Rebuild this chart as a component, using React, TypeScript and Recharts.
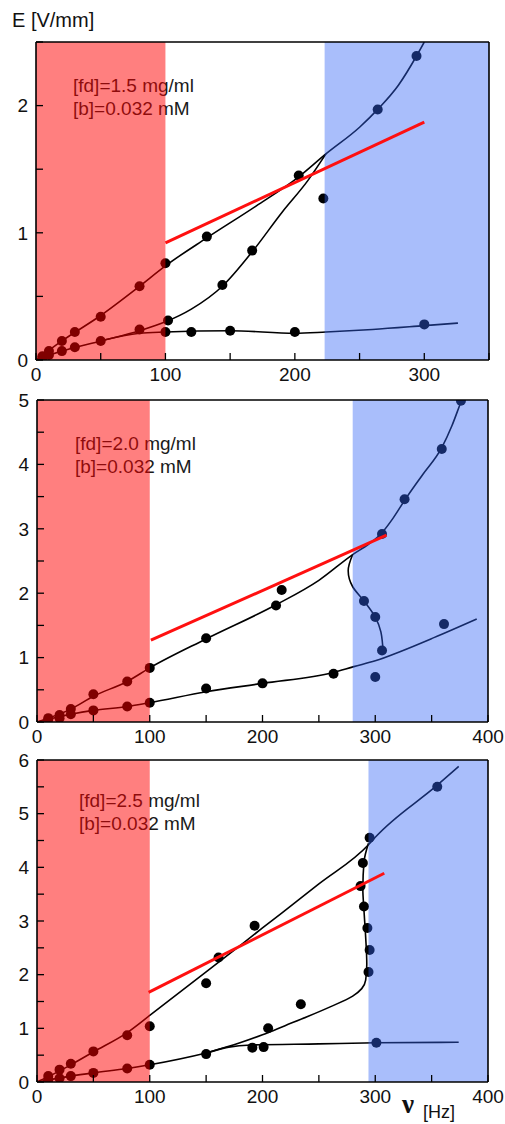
import React from 'react';
import {
  ComposedChart,
  Line,
  Scatter,
  XAxis,
  YAxis,
  ReferenceArea,
} from 'recharts';

type Pt = { x: number; y: number };

// ---- panel 1: [fd]=1.5 mg/ml ----
const p1XTicks = [0, 50, 100, 150, 200, 250, 300, 350];
const p1YTicks = [0, 0.5, 1, 1.5, 2, 2.5];
const p1RedBand = [0, 100];
const p1BlueBand = [223, 350];
const p1UpperPts: Pt[] = [
  { x: 5, y: 0.03 }, { x: 10, y: 0.07 }, { x: 20, y: 0.15 }, { x: 30, y: 0.22 },
  { x: 50, y: 0.34 }, { x: 80, y: 0.58 }, { x: 100, y: 0.76 }, { x: 132, y: 0.97 },
  { x: 203, y: 1.45 }, { x: 264, y: 1.97 }, { x: 294, y: 2.39 },
];
const p1MiddlePts: Pt[] = [
  { x: 5, y: 0.02 }, { x: 10, y: 0.04 }, { x: 20, y: 0.07 }, { x: 30, y: 0.1 },
  { x: 50, y: 0.15 }, { x: 80, y: 0.24 }, { x: 102, y: 0.31 }, { x: 144, y: 0.59 },
  { x: 167, y: 0.86 }, { x: 222, y: 1.27 },
];
const p1LowerPts: Pt[] = [
  { x: 100, y: 0.22 }, { x: 120, y: 0.22 }, { x: 150, y: 0.23 }, { x: 200, y: 0.22 },
  { x: 300, y: 0.28 },
];
const p1UpperCurve: Pt[] = [
  { x: 0, y: 0 }, { x: 20, y: 0.15 }, { x: 50, y: 0.35 }, { x: 80, y: 0.58 },
  { x: 100, y: 0.74 }, { x: 132, y: 0.96 }, { x: 170, y: 1.21 }, { x: 203, y: 1.44 },
  { x: 224, y: 1.62 }, { x: 250, y: 1.83 }, { x: 264, y: 1.97 }, { x: 280, y: 2.16 },
  { x: 294, y: 2.39 }, { x: 300, y: 2.5 },
];
const p1MiddleCurve: Pt[] = [
  { x: 0, y: 0 }, { x: 20, y: 0.07 }, { x: 50, y: 0.15 }, { x: 80, y: 0.23 },
  { x: 100, y: 0.3 }, { x: 120, y: 0.4 }, { x: 144, y: 0.58 }, { x: 167, y: 0.85 },
  { x: 190, y: 1.16 }, { x: 210, y: 1.41 }, { x: 224, y: 1.62 },
];
const p1LowerCurve: Pt[] = [
  { x: 50, y: 0.15 }, { x: 80, y: 0.21 }, { x: 100, y: 0.22 }, { x: 150, y: 0.23 },
  { x: 200, y: 0.21 }, { x: 224, y: 0.22 }, { x: 260, y: 0.24 }, { x: 300, y: 0.27 },
  { x: 326, y: 0.29 },
];
const p1Fit: Pt[] = [{ x: 100, y: 0.92 }, { x: 300, y: 1.87 }];

// ---- panel 2: [fd]=2.0 mg/ml ----
const p2XTicks = [0, 50, 100, 150, 200, 250, 300, 350, 400];
const p2YTicks = [0, 0.5, 1, 1.5, 2, 2.5, 3, 3.5, 4, 4.5, 5];
const p2RedBand = [0, 100];
const p2BlueBand = [280, 400];
const p2UpperPts: Pt[] = [
  { x: 10, y: 0.06 }, { x: 20, y: 0.11 }, { x: 30, y: 0.2 }, { x: 50, y: 0.43 },
  { x: 80, y: 0.63 }, { x: 100, y: 0.84 }, { x: 150, y: 1.3 }, { x: 212, y: 1.81 },
  { x: 217, y: 2.05 }, { x: 306, y: 2.92 }, { x: 326, y: 3.46 }, { x: 359, y: 4.24 },
  { x: 376, y: 4.99 },
];
const p2BackPts: Pt[] = [{ x: 290, y: 1.88 }, { x: 300, y: 1.63 }, { x: 306, y: 1.11 }];
const p2LowerPts: Pt[] = [
  { x: 10, y: 0.04 }, { x: 20, y: 0.06 }, { x: 30, y: 0.12 }, { x: 50, y: 0.18 },
  { x: 80, y: 0.24 }, { x: 100, y: 0.3 }, { x: 150, y: 0.52 }, { x: 200, y: 0.6 },
  { x: 263, y: 0.75 }, { x: 300, y: 0.7 }, { x: 361, y: 1.52 },
];
const p2UpperCurve: Pt[] = [
  { x: 0, y: 0 }, { x: 30, y: 0.2 }, { x: 50, y: 0.4 }, { x: 80, y: 0.63 },
  { x: 100, y: 0.84 }, { x: 150, y: 1.29 }, { x: 212, y: 1.82 }, { x: 250, y: 2.2 },
  { x: 280, y: 2.6 }, { x: 294, y: 2.76 }, { x: 306, y: 2.94 }, { x: 316, y: 3.17 },
  { x: 326, y: 3.44 }, { x: 342, y: 3.84 }, { x: 359, y: 4.26 }, { x: 368, y: 4.6 },
  { x: 376, y: 4.97 }, { x: 380, y: 5.15 },
];
const p2BackCurve: Pt[] = [
  { x: 280, y: 2.6 }, { x: 276, y: 2.35 }, { x: 280, y: 2.1 }, { x: 290, y: 1.88 },
  { x: 300, y: 1.63 }, { x: 305, y: 1.4 }, { x: 307, y: 1.08 },
];
const p2LowerCurve: Pt[] = [
  { x: 0, y: 0 }, { x: 30, y: 0.12 }, { x: 50, y: 0.18 }, { x: 80, y: 0.24 },
  { x: 100, y: 0.3 }, { x: 150, y: 0.47 }, { x: 200, y: 0.6 }, { x: 263, y: 0.77 },
  { x: 281, y: 0.86 }, { x: 300, y: 0.95 }, { x: 323, y: 1.1 }, { x: 352, y: 1.31 },
  { x: 390, y: 1.6 },
];
const p2Fit: Pt[] = [{ x: 101, y: 1.27 }, { x: 310, y: 2.9 }];

// ---- panel 3: [fd]=2.5 mg/ml ----
const p3XTicks = [0, 50, 100, 150, 200, 250, 300, 350, 400];
const p3YTicks = [0, 0.5, 1, 1.5, 2, 2.5, 3, 3.5, 4, 4.5, 5, 5.5, 6];
const p3RedBand = [0, 100];
const p3BlueBand = [294, 400];
const p3UpperPts: Pt[] = [
  { x: 10, y: 0.11 }, { x: 20, y: 0.23 }, { x: 30, y: 0.34 }, { x: 50, y: 0.57 },
  { x: 80, y: 0.87 }, { x: 100, y: 1.04 }, { x: 150, y: 1.84 }, { x: 161, y: 2.32 },
  { x: 193, y: 2.91 }, { x: 295, y: 4.55 }, { x: 355, y: 5.5 },
];
const p3BackPts: Pt[] = [
  { x: 289, y: 4.08 }, { x: 287, y: 3.65 }, { x: 290, y: 3.27 }, { x: 293, y: 2.87 },
  { x: 295, y: 2.46 }, { x: 294, y: 2.05 }, { x: 205, y: 1.0 }, { x: 234, y: 1.45 },
  { x: 191, y: 0.64 }, { x: 201, y: 0.65 },
];
const p3LowerPts: Pt[] = [
  { x: 10, y: 0.04 }, { x: 20, y: 0.07 }, { x: 30, y: 0.11 }, { x: 50, y: 0.17 },
  { x: 80, y: 0.25 }, { x: 100, y: 0.32 }, { x: 150, y: 0.52 }, { x: 301, y: 0.73 },
];
const p3UpperCurve: Pt[] = [
  { x: 0, y: 0 }, { x: 10, y: 0.1 }, { x: 30, y: 0.32 }, { x: 50, y: 0.56 },
  { x: 80, y: 0.92 }, { x: 100, y: 1.24 }, { x: 150, y: 2.05 }, { x: 200, y: 2.87 },
  { x: 250, y: 3.69 }, { x: 294, y: 4.42 }, { x: 300, y: 4.56 }, { x: 355, y: 5.53 },
  { x: 374, y: 5.88 },
];
const p3BackCurve: Pt[] = [
  { x: 294, y: 4.45 }, { x: 290, y: 4.1 }, { x: 289, y: 3.6 }, { x: 290, y: 3.2 },
  { x: 291.5, y: 2.7 }, { x: 292.5, y: 2.2 }, { x: 291.5, y: 1.9 }, { x: 288, y: 1.74 },
  { x: 280, y: 1.6 }, { x: 260, y: 1.4 }, { x: 240, y: 1.22 }, { x: 220, y: 1.05 },
  { x: 200, y: 0.88 }, { x: 180, y: 0.73 }, { x: 150, y: 0.54 },
];
const p3LowerCurve: Pt[] = [
  { x: 0, y: 0 }, { x: 30, y: 0.11 }, { x: 50, y: 0.17 }, { x: 80, y: 0.25 },
  { x: 100, y: 0.32 }, { x: 150, y: 0.54 }, { x: 170, y: 0.65 }, { x: 190, y: 0.69 },
  { x: 250, y: 0.71 }, { x: 301, y: 0.73 }, { x: 374, y: 0.74 },
];
const p3Fit: Pt[] = [{ x: 99, y: 1.67 }, { x: 308, y: 3.89 }];

const FONT = '"Liberation Sans", Arial, sans-serif';
const tickStyle = { fontSize: 19, fill: '#111', fontFamily: FONT };

const Dot = (p: any) => <circle cx={p.cx} cy={p.cy} r={5} fill="#000" />;

type Curve = { data: Pt[]; type: 'monotone' | 'monotoneY' };

type PanelProps = {
  height: number;
  margin: { top: number; right: number; bottom: number; left: number };
  xDomain: [number, number];
  yDomain: [number, number];
  xTicks: number[];
  yTicks: number[];
  redBand: number[];
  blueBand: number[];
  curves: Curve[];
  points: Pt[][];
  fit: Pt[];
};

const axisLine = { stroke: '#000', strokeWidth: 1.6 };
const tickLine = { stroke: '#000', strokeWidth: 1.3 };

const Panel: React.FC<PanelProps> = (props) => {
  const { xDomain, yDomain } = props;
  return (
    <ComposedChart width={505} height={props.height} margin={props.margin}>
      {props.curves.map((c, i) => (
        <Line
          key={`c${i}`}
          data={c.data}
          dataKey="y"
          type={c.type}
          stroke="#000"
          strokeWidth={1.6}
          dot={false}
          activeDot={false}
          isAnimationActive={false}
          zIndex={300}
        />
      ))}
      {props.points.map((p, i) => (
        <Scatter
          key={`p${i}`}
          data={p}
          dataKey="y"
          shape={Dot}
          isAnimationActive={false}
          zIndex={350}
        />
      ))}
      <ReferenceArea
        x1={props.redBand[0]}
        x2={props.redBand[1]}
        fill="rgb(255,0,0)"
        fillOpacity={0.5}
        stroke="none"
        zIndex={450}
      />
      <ReferenceArea
        x1={props.blueBand[0]}
        x2={props.blueBand[1]}
        fill="rgb(50,100,245)"
        fillOpacity={0.42}
        stroke="none"
        zIndex={450}
      />
      <Line
        data={props.fit}
        dataKey="y"
        type="linear"
        stroke="#ff1010"
        strokeWidth={3}
        dot={false}
        activeDot={false}
        isAnimationActive={false}
        zIndex={460}
      />
      <XAxis
        type="number"
        dataKey="x"
        domain={xDomain}
        ticks={props.xTicks}
        allowDataOverflow
        height={30}
        tickSize={-7}
        tickMargin={15}
        tickFormatter={(v: number) => (v % 100 === 0 ? String(v) : '')}
        tick={tickStyle}
        axisLine={axisLine}
        tickLine={tickLine}
        interval={0}
      />
      <XAxis
        xAxisId="top"
        orientation="top"
        type="number"
        domain={xDomain}
        ticks={props.xTicks}
        allowDataOverflow
        height={1}
        tickSize={-7}
        tick={false}
        axisLine={axisLine}
        tickLine={tickLine}
        interval={0}
      />
      <YAxis
        type="number"
        domain={yDomain}
        ticks={props.yTicks}
        allowDataOverflow
        width={30}
        tickSize={-7}
        tickMargin={15}
        tickFormatter={(v: number) => (v % 1 === 0 ? String(v) : '')}
        tick={tickStyle}
        axisLine={axisLine}
        tickLine={tickLine}
        interval={0}
      />
      <YAxis
        yAxisId="right"
        orientation="right"
        type="number"
        domain={yDomain}
        ticks={props.yTicks}
        allowDataOverflow
        width={1}
        tickSize={-7}
        tick={false}
        axisLine={axisLine}
        tickLine={tickLine}
        interval={0}
      />
    </ComposedChart>
  );
};

const Note: React.FC<{ left: number; top: number; fd: string }> = ({ left, top, fd }) => (
  <div
    style={{
      position: 'absolute',
      left,
      top,
      fontFamily: FONT,
      fontSize: 19,
      lineHeight: '23px',
      color: '#1a1a1a',
      whiteSpace: 'nowrap',
    }}
  >
    <div>[fd]={fd} mg/ml</div>
    <div>[b]=0.032 mM</div>
  </div>
);

const abs = (top: number): React.CSSProperties => ({ position: 'absolute', left: 0, top });

export default function App() {
  return (
    <div style={{ position: 'absolute', left: 0, top: 0, width: 505, height: 1124, background: '#fff' }}>
      <Note left={73} top={74} fd="1.5" />
      <Note left={75} top={432} fd="2.0" />
      <Note left={79} top={789} fd="2.5" />

      <div style={abs(0)}>
        <Panel
          height={390}
          margin={{ top: 41, right: 15, bottom: 0, left: 6 }}
          xDomain={[0, 350]}
          yDomain={[0, 2.5]}
          xTicks={p1XTicks}
          yTicks={p1YTicks}
          redBand={p1RedBand}
          blueBand={p1BlueBand}
          curves={[
            { data: p1UpperCurve, type: 'monotone' },
            { data: p1MiddleCurve, type: 'monotone' },
            { data: p1LowerCurve, type: 'monotone' },
          ]}
          points={[p1UpperPts, p1MiddlePts, p1LowerPts]}
          fit={p1Fit}
        />
      </div>
      <div style={abs(380)}>
        <Panel
          height={372}
          margin={{ top: 19, right: 16, bottom: 0, left: 7 }}
          xDomain={[0, 400]}
          yDomain={[0, 5]}
          xTicks={p2XTicks}
          yTicks={p2YTicks}
          redBand={p2RedBand}
          blueBand={p2BlueBand}
          curves={[
            { data: p2UpperCurve, type: 'monotone' },
            { data: p2BackCurve, type: 'monotoneY' },
            { data: p2LowerCurve, type: 'monotone' },
          ]}
          points={[p2UpperPts, p2BackPts, p2LowerPts]}
          fit={p2Fit}
        />
      </div>
      <div style={abs(740)}>
        <Panel
          height={372}
          margin={{ top: 19, right: 16, bottom: 0, left: 7 }}
          xDomain={[0, 400]}
          yDomain={[0, 6]}
          xTicks={p3XTicks}
          yTicks={p3YTicks}
          redBand={p3RedBand}
          blueBand={p3BlueBand}
          curves={[
            { data: p3UpperCurve, type: 'monotone' },
            { data: p3BackCurve, type: 'monotoneY' },
            { data: p3LowerCurve, type: 'monotone' },
          ]}
          points={[p3UpperPts, p3BackPts, p3LowerPts]}
          fit={p3Fit}
        />
      </div>

      <div
        style={{
          position: 'absolute',
          left: 12,
          top: 9,
          fontFamily: FONT,
          fontSize: 20,
          color: '#111',
          whiteSpace: 'nowrap',
        }}
      >
        E [V/mm]
      </div>
      <div
        style={{
          position: 'absolute',
          left: 402,
          top: 1091,
          fontFamily: '"Liberation Serif", serif',
          fontSize: 27,
          lineHeight: '27px',
          fontWeight: 'bold',
          color: '#111',
        }}
      >
        ν
      </div>
      <div
        style={{
          position: 'absolute',
          left: 423,
          top: 1103,
          fontFamily: FONT,
          fontSize: 18,
          lineHeight: '18px',
          color: '#111',
          whiteSpace: 'nowrap',
        }}
      >
        [Hz]
      </div>
    </div>
  );
}
